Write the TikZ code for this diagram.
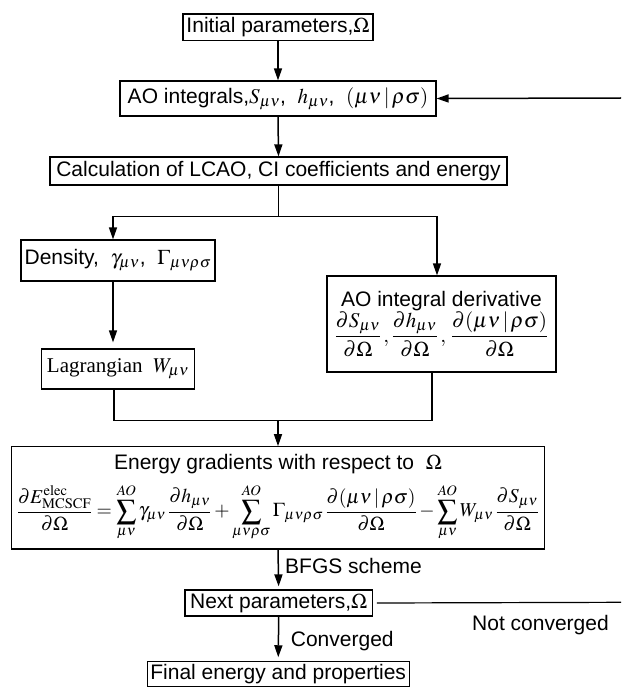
\documentclass[tikz,border=0pt]{standalone}
\usepackage{mathptmx}
\usepackage{graphicx}
\usepackage[no-math]{fontspec}
\setmainfont{Liberation Sans}
\newfontfamily\serifrm{Liberation Serif}
\usetikzlibrary{arrows.meta}
\tikzset{
  box/.style={draw, line width=1.2pt, inner sep=0pt, align=center},
  arr/.style={-{Triangle[length=12pt,width=8pt]}, line width=1.5pt},
  ln/.style={line width=1.2pt},
  lbl/.style={inner sep=0pt, anchor=base west}
}
\begin{document}
\begin{tikzpicture}[x=1pt, y=-1pt, font=\fontsize{21}{24}\selectfont]
\useasboundingbox (0,0) rectangle (621,687);

\node[box, minimum width=190pt, minimum height=26.7pt] (b1) at (278,27.3) {Initial parameters,$\Omega$};
\node[box, minimum width=316pt, minimum height=35pt] (b2) at (278,98.5) {AO integrals,$S_{\mu\nu}$,\ \ $h_{\mu\nu}$,\ \ $(\mu\nu\,|\,\rho\sigma)$};
\node[box, minimum width=457pt, minimum height=28pt] (b3) at (278.5,171) {Calculation of LCAO, CI coefficients and energy};
\node[box, minimum width=194pt, minimum height=41pt] (dens) at (118,260.5) {Density,\ \ $\gamma_{\mu\nu}$,\ \ $\Gamma_{\mu\nu\rho\sigma}$};
\node[box, minimum width=229pt, minimum height=96pt] (aod) at (441.5,324) {AO integral derivative\\[0pt]
  $\displaystyle\frac{\partial S_{\mu\nu}}{\partial\Omega}\,,\frac{\partial h_{\mu\nu}}{\partial\Omega}\,,\,\frac{\partial(\mu\nu\,|\,\rho\sigma)}{\partial\Omega}$};
\node[box, minimum width=152.6pt, minimum height=40pt] (lag) at (118,369) {\serifrm Lagrangian\ \ $W_{\mu\nu}$};
\node[box, minimum width=532.6pt, minimum height=102.3pt] (en) at (278,497.9) {Energy gradients with respect to\ \ $\Omega$\\[9pt]
  \resizebox{522pt}{!}{$\displaystyle\frac{\partial E^{\mathrm{elec}}_{\mathrm{MCSCF}}}{\partial\Omega}=\sum_{\mu\nu}^{AO}\gamma_{\mu\nu}\,\frac{\partial h_{\mu\nu}}{\partial\Omega}+\sum_{\mu\nu\rho\sigma}^{AO}\Gamma_{\mu\nu\rho\sigma}\,\frac{\partial(\mu\nu\,|\,\rho\sigma)}{\partial\Omega}-\sum_{\mu\nu}^{AO}W_{\mu\nu}\,\frac{\partial S_{\mu\nu}}{\partial\Omega}$}};
\node[box, minimum width=187.3pt, minimum height=26pt] (nx) at (278.7,603) {Next parameters,$\Omega$};
\node[box, minimum width=262pt, minimum height=24.3pt] (fin) at (278.2,674) {Final energy and properties};

\coordinate (jL) at (113,216.5);
\coordinate (jR) at (437,216.5);
\coordinate (mL) at (114,420.7);
\coordinate (mR) at (432,420.7);
\coordinate (fb) at (621,98);
\coordinate (nc) at (621,602.3);

\draw[arr] (b1.south) -- (b2.north);
\draw[arr] (fb) -- (b2.east);
\draw[arr] (b2.south) -- (b3.north);
\draw[ln] (b3.south) -- (b3.south |- jL);
\draw[arr] (jR) -- (jL) -- (jL |- dens.north);
\draw[arr] (jL -| b3.south) -- (jR) -- (jR |- aod.north);
\draw[arr, shorten >=6pt] (jL |- dens.south) -- (jL |- lag.north);
\draw[ln] (mL |- lag.south) -- (mL) -- (mR) -- (mR |- aod.south);
\draw[arr] (mL -| en.north) -- (en.north);
\draw[arr, shorten >=3pt] (en.south) -- (nx.north);
\draw[arr, shorten >=4pt] (nx.south) -- (fin.north);
\draw[ln] ([xshift=4pt]nx.east) -- (nc);

\node[lbl] (t1) at (285,573.3) {BFGS scheme};
\node[lbl] (t2) at (290.7,646) {Converged};
\node[lbl] (t3) at (472,630) {Not converged};
\end{tikzpicture}
\end{document}
